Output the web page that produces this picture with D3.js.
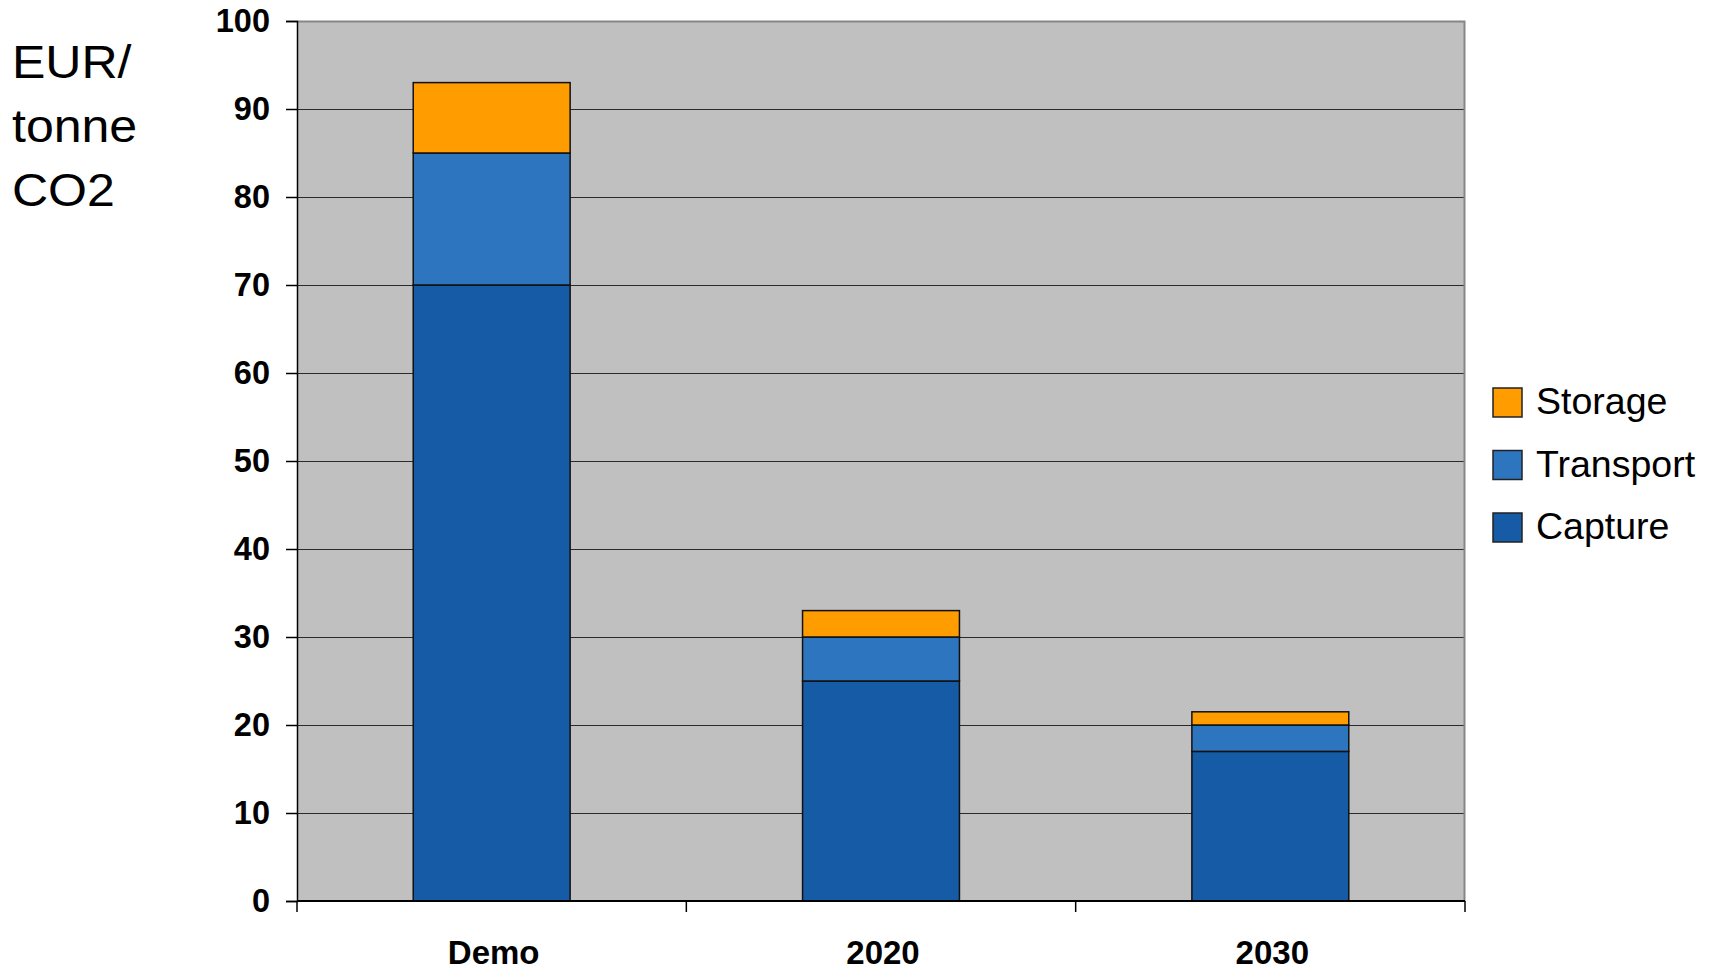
<!DOCTYPE html>
<html>
<head>
<meta charset="utf-8">
<script src="https://cdn.jsdelivr.net/npm/d3@7"></script>
<style>
  html, body { margin: 0; padding: 0; background: #ffffff; }
  svg { display: block; font-family: "Liberation Sans", Arial, sans-serif; }
</style>
</head>
<body>
<svg id="chart" width="1709" height="971"></svg>
<script>
// Cost of CO2 capture, transport and storage (EUR per tonne CO2)
const categories = ["Demo", "2020", "2030"];
const seriesNames = ["Capture", "Transport", "Storage"];
const capture   = [70, 25, 17];
const transport = [15, 5, 3];
const storage   = [8, 3, 1.5];
const yTicks = [0, 10, 20, 30, 40, 50, 60, 70, 80, 90, 100];
const colors = { Capture: "#155BA6", Transport: "#2E75BF", Storage: "#FF9C00" };

const svg = d3.select("#chart");
const plot = { left: 297, right: 1465, top: 21, bottom: 901 };

const rows = categories.map((c, i) => ({
  category: c,
  Capture: capture[i],
  Transport: transport[i],
  Storage: storage[i]
}));
const stacked = d3.stack().keys(seriesNames)(rows);

const x = d3.scaleBand().domain(categories).range([plot.left, plot.right]).paddingInner(0).paddingOuter(0);
const y = d3.scaleLinear().domain([0, 100]).range([plot.bottom, plot.top]);
const barW = x.bandwidth() * 0.403;

// plot background
svg.append("rect")
  .attr("x", plot.left).attr("y", plot.top)
  .attr("width", plot.right - plot.left).attr("height", plot.bottom - plot.top)
  .attr("fill", "#C0C0C0");

// horizontal gridlines
svg.append("g").selectAll("line")
  .data(yTicks.filter(t => t > 0 && t < 100))
  .join("line")
  .attr("x1", plot.left).attr("x2", plot.right)
  .attr("y1", d => Math.round(y(d)) + 0.5).attr("y2", d => Math.round(y(d)) + 0.5)
  .attr("stroke", "#2a2a2a").attr("stroke-width", 1.2);

// top and right frame of the plot area
svg.append("path")
  .attr("d", `M${plot.left},${plot.top + 0.5} H${plot.right - 0.5} V${plot.bottom}`)
  .attr("fill", "none").attr("stroke", "#858585").attr("stroke-width", 2);

// stacked bars
svg.append("g").selectAll("g")
  .data(stacked)
  .join("g")
  .attr("fill", d => colors[d.key])
  .selectAll("rect")
  .data(d => d)
  .join("rect")
  .attr("x", d => x(d.data.category) + (x.bandwidth() - barW) / 2)
  .attr("y", d => y(d[1]))
  .attr("width", barW)
  .attr("height", d => y(d[0]) - y(d[1]))
  .attr("stroke", "#111111").attr("stroke-width", 1.5);

// y axis
const yAxis = d3.axisLeft(y).tickValues(yTicks).tickSize(11).tickPadding(16).tickFormat(d3.format("d"));
const gy = svg.append("g").attr("transform", `translate(${plot.left},0)`).call(yAxis);
gy.select(".domain").attr("stroke", "#000").attr("stroke-width", 1.5);
gy.selectAll(".tick line").attr("stroke", "#000").attr("stroke-width", 1.5);
gy.selectAll(".tick text")
  .attr("font-size", 32.5).attr("font-weight", "bold").attr("fill", "#000")
  .attr("font-family", "'Liberation Sans', Arial, sans-serif");

// x axis: ticks at category boundaries
const gx = svg.append("g").attr("transform", `translate(0,${plot.bottom})`);
gx.append("line")
  .attr("x1", plot.left).attr("x2", plot.right)
  .attr("y1", 0).attr("y2", 0)
  .attr("stroke", "#000").attr("stroke-width", 2);
const boundaries = categories.map(c => x(c)).concat([x(categories[categories.length - 1]) + x.bandwidth()]);
gx.selectAll("line.tk")
  .data(boundaries)
  .join("line").attr("class", "tk")
  .attr("x1", d => d).attr("x2", d => d)
  .attr("y1", 0).attr("y2", 11)
  .attr("stroke", "#000").attr("stroke-width", 1.5);
gx.selectAll("text")
  .data(categories)
  .join("text")
  .attr("x", d => x(d) + x.bandwidth() / 2 + 2)
  .attr("y", 63)
  .attr("text-anchor", "middle")
  .attr("font-size", 33).attr("font-weight", "bold").attr("fill", "#000")
  .text(d => d);

// y axis title (slightly wide lettering)
const title = svg.append("text")
  .attr("font-size", 45.5).attr("fill", "#000")
  .attr("transform", "scale(1.1,1)");
["EUR/", "tonne", "CO2"].forEach((t, i) => {
  title.append("tspan").attr("x", 12 / 1.1).attr("y", 78 + i * 64).text(t);
});

// legend (top to bottom: Storage, Transport, Capture)
const legend = svg.append("g").attr("transform", "translate(1493,388)");
const legendItems = legend.selectAll("g")
  .data(seriesNames.slice().reverse())
  .join("g")
  .attr("transform", (d, i) => `translate(0,${i * 62.5})`);
legendItems.append("rect")
  .attr("width", 29).attr("height", 29)
  .attr("fill", d => colors[d])
  .attr("stroke", "#222").attr("stroke-width", 1.5);
legendItems.append("text")
  .attr("x", 43).attr("y", 26)
  .attr("font-size", 37.5).attr("fill", "#000")
  .text(d => d);
</script>
</body>
</html>
